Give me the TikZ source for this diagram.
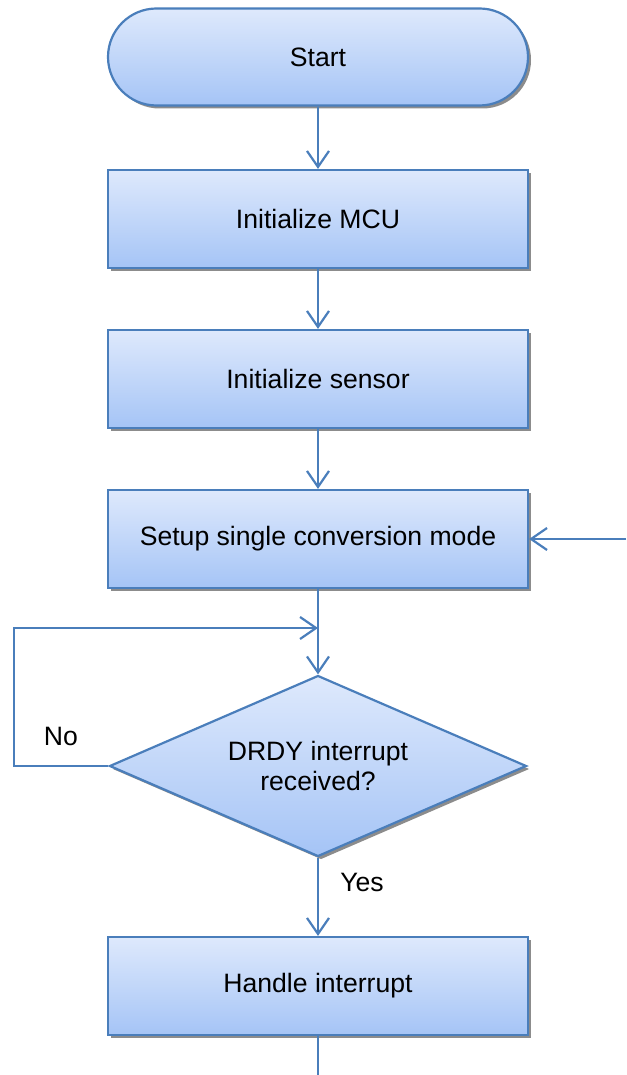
\documentclass[tikz,border=0pt]{standalone}
\usepackage{fontspec}
\setmainfont{Liberation Sans}
\usetikzlibrary{arrows.meta,shapes.geometric,shapes.misc,shadows}
\definecolor{edgeblue}{HTML}{4A7EBB}
\definecolor{topfill}{HTML}{DEE9FC}
\definecolor{botfill}{HTML}{A5C4F6}
\begin{document}
\begin{tikzpicture}[x=1pt,y=-1pt,
  every node/.style={font=\fontsize{26.6}{30}\selectfont},
  boxbase/.style={draw=edgeblue, line width=2.2pt, top color=topfill, bottom color=botfill,
    drop shadow={shadow xshift=3pt, shadow yshift=-3pt, fill=black!45, opacity=1}},
  procbox/.style={boxbase, rectangle, minimum width=420pt, minimum height=98pt, inner sep=0pt},
  termbox/.style={boxbase, rounded rectangle, minimum width=420pt, minimum height=97pt, inner sep=0pt},
  decbox/.style={boxbase, diamond, minimum width=417pt, minimum height=181pt, inner sep=0pt, aspect=2.3, align=center},
  conn/.style={draw=edgeblue, line width=2.2pt},
  arr/.style={conn, -{Straight Barb[length=16pt,width=22pt,line width=2.2pt]}},
  lbl/.style={inner sep=0pt}
]
\useasboundingbox (0,0) rectangle (626,1075);
\node[termbox] (start) at (318,57) {Start};
\node[procbox] (mcu) at (318,219) {Initialize MCU};
\node[procbox] (sensor) at (318,379) {Initialize sensor};
\node[procbox] (setup) at (318,539) {Setup single conversion mode};
\node[decbox] (drdy) at (318,766) {DRDY interrupt\\received?};
\node[procbox] (handle) at (318,986) {Handle interrupt};
\coordinate (rin) at (626,539);
\coordinate (loopA) at (14,766);
\coordinate (loopB) at (14,628);
\coordinate (loopend) at (318,628);
\coordinate (bottomend) at (318,1075);
\draw[arr] (start.south) -- (mcu.north);
\draw[arr] (mcu.south) -- (sensor.north);
\draw[arr] (sensor.south) -- (setup.north);
\draw[arr] (rin) -- (setup.east);
\draw[arr] (setup.south) -- (drdy.north);
\draw[arr] (drdy.west) -- (loopA) -- (loopB) -- (loopend);
\draw[arr] (drdy.south) -- (handle.north);
\draw[conn] (handle.south) -- (bottomend);
\node[lbl] (no) at (61,736) {No};
\node[lbl] (yes) at (362,882) {Yes};
\end{tikzpicture}
\end{document}
